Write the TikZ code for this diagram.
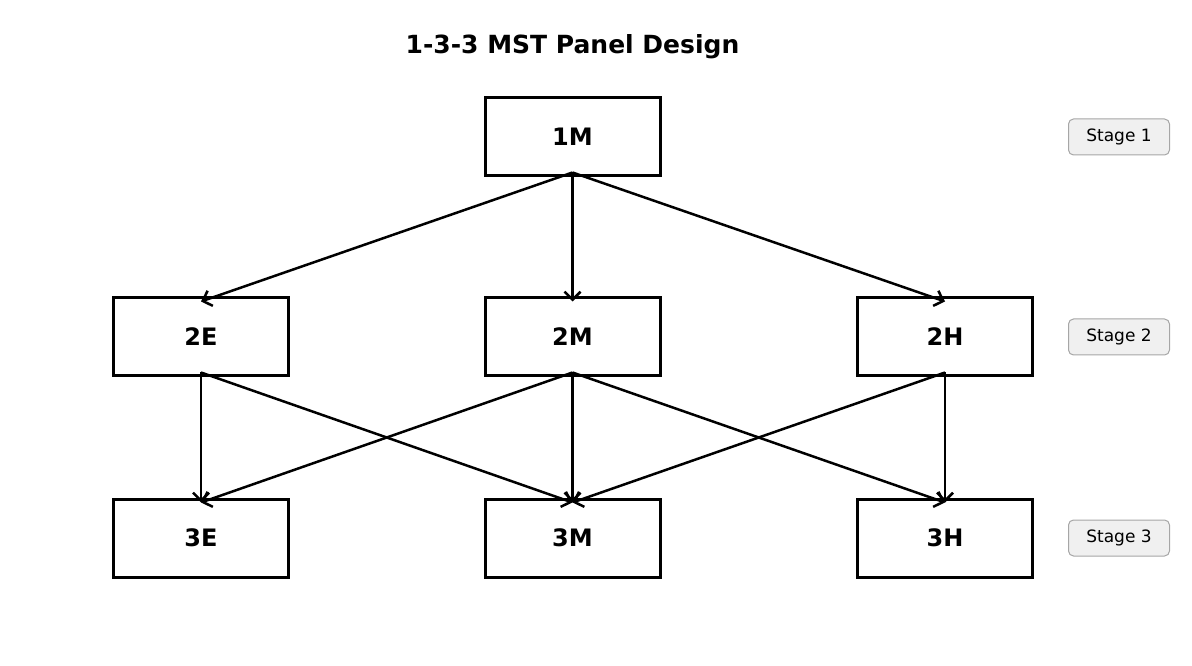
\documentclass[tikz,border=0pt]{standalone}
\usepackage{fontspec}
\setmainfont{DejaVu Sans}
\usetikzlibrary{arrows.meta}
\begin{document}
\begin{tikzpicture}[x=1pt,y=1pt,
  panel/.style={draw,line width=3pt,minimum width=175pt,minimum height=78pt,inner sep=0pt,font=\fontsize{24}{28}\selectfont\bfseries},
  stagelbl/.style={draw=black!35,fill=black!6,rounded corners=5pt,line width=1pt,minimum width=101pt,minimum height=36pt,inner sep=0pt,font=\fontsize{17}{20}\selectfont},
  conn/.style={line width=2.5pt,-{Straight Barb[length=8pt,width=16pt,line width=2.5pt]}}]
\useasboundingbox (0,0) rectangle (1192,665);
\node[font=\fontsize{25}{30}\selectfont\bfseries] (title) at (572.5,618) {1-3-3 MST Panel Design};
\node[panel] (m1) at (572.5,528) {1M};
\node[panel] (e2) at (201,328) {2E};
\node[panel] (m2) at (572.5,328) {2M};
\node[panel] (h2) at (945,328) {2H};
\node[panel] (e3) at (201,127) {3E};
\node[panel] (m3) at (572.5,127) {3M};
\node[panel] (h3) at (945,127) {3H};
\node[stagelbl] (s1) at (1119,528) {Stage 1};
\node[stagelbl] (s2) at (1119,328) {Stage 2};
\node[stagelbl] (s3) at (1119,127) {Stage 3};
\foreach \a/\b in {m1/e2,m1/m2,m1/h2,e2/e3,e2/m3,m2/e3,m2/m3,m2/h3,h2/m3,h2/h3}
  \draw[conn] ([yshift=5pt]\a.south) -- ([yshift=-5pt]\b.north);
\end{tikzpicture}
\end{document}
